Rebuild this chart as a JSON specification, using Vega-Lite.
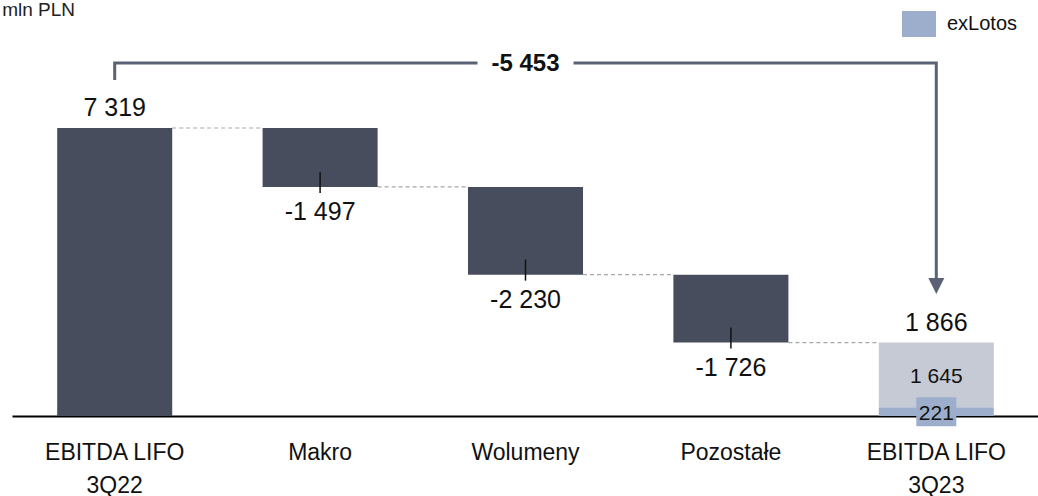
{
  "$schema": "https://vega.github.io/schema/vega-lite/v6.json",
  "width": 1027,
  "height": 416,
  "autosize": "none",
  "padding": {"left": 12, "top": 0, "right": 0, "bottom": 80},
  "background": "white",
  "config": {
    "view": {"stroke": null},
    "font": "Liberation Sans, Arial",
    "text": {"color": "#111111"}
  },
  "datasets": {
    "bars": [
      {"cat": "EBITDA LIFO|3Q22", "lo": 0, "hi": 7319, "part": "main"},
      {"cat": "Makro", "lo": 5822, "hi": 7319, "part": "main"},
      {"cat": "Wolumeny", "lo": 3592, "hi": 5822, "part": "main"},
      {"cat": "Pozostałe", "lo": 1866, "hi": 3592, "part": "main"},
      {"cat": "EBITDA LIFO|3Q23", "lo": 0, "hi": 221, "part": "exLotos"},
      {"cat": "EBITDA LIFO|3Q23", "lo": 221, "hi": 1866, "part": "rest"}
    ],
    "steps": [
      {"cat": "EBITDA LIFO|3Q22", "next": "Makro", "level": 7319},
      {"cat": "Makro", "next": "Wolumeny", "level": 5822},
      {"cat": "Wolumeny", "next": "Pozostałe", "level": 3592},
      {"cat": "Pozostałe", "next": "EBITDA LIFO|3Q23", "level": 1866}
    ],
    "totals": [
      {"cat": "EBITDA LIFO|3Q22", "v": 7319, "text": "7 319"},
      {"cat": "EBITDA LIFO|3Q23", "v": 1866, "text": "1 866"}
    ],
    "deltas": [
      {"cat": "Makro", "v": 5822, "text": "-1 497"},
      {"cat": "Wolumeny", "v": 3592, "text": "-2 230"},
      {"cat": "Pozostałe", "v": 1866, "text": "-1 726"}
    ],
    "inner": [
      {"cat": "EBITDA LIFO|3Q23", "v": 1043.5, "text": "1 645", "boxed": false},
      {"cat": "EBITDA LIFO|3Q23", "v": 110.5, "text": "221", "boxed": true}
    ],
    "bracket": [
      {"cat": "EBITDA LIFO|3Q22", "v": 8540, "o": 0},
      {"cat": "EBITDA LIFO|3Q22", "v": 8971, "o": 1},
      {"cat": "EBITDA LIFO|3Q23", "v": 8971, "o": 2},
      {"cat": "EBITDA LIFO|3Q23", "v": 3507, "o": 3}
    ],
    "change": [
      {"cat": "Wolumeny", "v": 8971, "text": "-5 453"}
    ],
    "arrow": [
      {"cat": "EBITDA LIFO|3Q23", "v": 3304}
    ],
    "unit": [
      {"cat": "EBITDA LIFO|3Q22", "v": 10572, "text": "mln PLN"}
    ]
  },
  "encoding": {
    "x": {
      "field": "cat",
      "type": "nominal",
      "sort": null,
      "scale": {
        "domain": ["EBITDA LIFO|3Q22", "Makro", "Wolumeny", "Pozostałe", "EBITDA LIFO|3Q23"],
        "paddingInner": 0.44,
        "paddingOuter": 0.22
      },
      "axis": {
        "title": null,
        "ticks": false,
        "domainColor": "#000000",
        "domainWidth": 2,
        "labelAngle": 0,
        "labelFontSize": 23,
        "labelLineHeight": 33,
        "labelPadding": 36,
        "labelColor": "#111111",
        "labelBaseline": "middle",
        "labelExpr": "split(datum.label, '|')"
      }
    }
  },
  "layer": [
    {
      "data": {"name": "steps"},
      "mark": {"type": "rule", "color": "#a8a8a8", "strokeWidth": 1.2, "strokeDash": [4, 3]},
      "encoding": {
        "x": {"field": "cat", "type": "nominal", "bandPosition": 1},
        "x2": {"field": "next", "bandPosition": 0},
        "y": {"field": "level", "type": "quantitative", "scale": {"domain": [0, 10572], "nice": false, "zero": true}, "axis": null}
      }
    },
    {
      "data": {"name": "bars"},
      "mark": {"type": "bar"},
      "encoding": {
        "y": {"field": "lo", "type": "quantitative", "axis": null},
        "y2": {"field": "hi"},
        "color": {
          "field": "part",
          "type": "nominal",
          "scale": {"domain": ["main", "rest", "exLotos"], "range": ["#474d5c", "#c6cad5", "#9caecb"]},
          "legend": {
            "values": ["exLotos"],
            "orient": "none",
            "legendX": 890,
            "legendY": 7,
            "title": null,
            "padding": 0,
            "symbolType": "M-1,-0.765H1V0.765H-1Z",
            "symbolSize": 1156,
            "symbolStrokeWidth": 0,
            "symbolOpacity": 1,
            "labelFontSize": 20,
            "labelOffset": 11,
            "labelColor": "#111111"
          }
        }
      }
    },
    {
      "data": {"name": "deltas"},
      "mark": {"type": "rule", "color": "#111111", "strokeWidth": 1.5, "yOffset": -15, "y2Offset": 6},
      "encoding": {
        "y": {"field": "v", "type": "quantitative", "axis": null},
        "y2": {"field": "v"}
      }
    },
    {
      "data": {"name": "deltas"},
      "mark": {"type": "text", "fontSize": 25, "baseline": "middle", "dy": 25},
      "encoding": {
        "y": {"field": "v", "type": "quantitative", "axis": null},
        "text": {"field": "text"}
      }
    },
    {
      "data": {"name": "totals"},
      "mark": {"type": "text", "fontSize": 25, "baseline": "middle", "dy": -20},
      "encoding": {
        "y": {"field": "v", "type": "quantitative", "axis": null},
        "text": {"field": "text"}
      }
    },
    {
      "data": {"name": "inner"},
      "transform": [{"filter": "datum.boxed"}],
      "mark": {"type": "point", "shape": "M-1,-0.725H1V0.725H-1Z", "size": 1600, "filled": true, "color": "#9caecb", "opacity": 1},
      "encoding": {
        "y": {"field": "v", "type": "quantitative", "axis": null}
      }
    },
    {
      "data": {"name": "inner"},
      "mark": {"type": "text", "fontSize": 21, "baseline": "middle", "dy": 2},
      "encoding": {
        "y": {"field": "v", "type": "quantitative", "axis": null},
        "text": {"field": "text"}
      }
    },
    {
      "data": {"name": "bracket"},
      "mark": {"type": "line", "color": "#5b6275", "strokeWidth": 3, "strokeJoin": "miter"},
      "encoding": {
        "y": {"field": "v", "type": "quantitative", "axis": null},
        "order": {"field": "o"}
      }
    },
    {
      "data": {"name": "arrow"},
      "mark": {"type": "point", "shape": "M-1,-1L1,-1L0,1Z", "size": 256, "filled": true, "color": "#5b6275", "opacity": 1},
      "encoding": {
        "y": {"field": "v", "type": "quantitative", "axis": null}
      }
    },
    {
      "data": {"name": "change"},
      "mark": {"type": "point", "shape": "M-1,-0.2H1V0.2H-1Z", "size": 9216, "filled": true, "color": "white", "opacity": 1},
      "encoding": {
        "y": {"field": "v", "type": "quantitative", "axis": null}
      }
    },
    {
      "data": {"name": "change"},
      "mark": {"type": "text", "fontSize": 24, "fontWeight": "bold", "baseline": "middle", "dy": 1},
      "encoding": {
        "y": {"field": "v", "type": "quantitative", "axis": null},
        "text": {"field": "text"}
      }
    },
    {
      "data": {"name": "unit"},
      "mark": {"type": "text", "fontSize": 19, "align": "left", "baseline": "alphabetic", "dx": -55, "dy": 16, "color": "#222222"},
      "encoding": {
        "x": {"field": "cat", "type": "nominal", "bandPosition": 0},
        "y": {"field": "v", "type": "quantitative", "axis": null},
        "text": {"field": "text"}
      }
    }
  ]
}
